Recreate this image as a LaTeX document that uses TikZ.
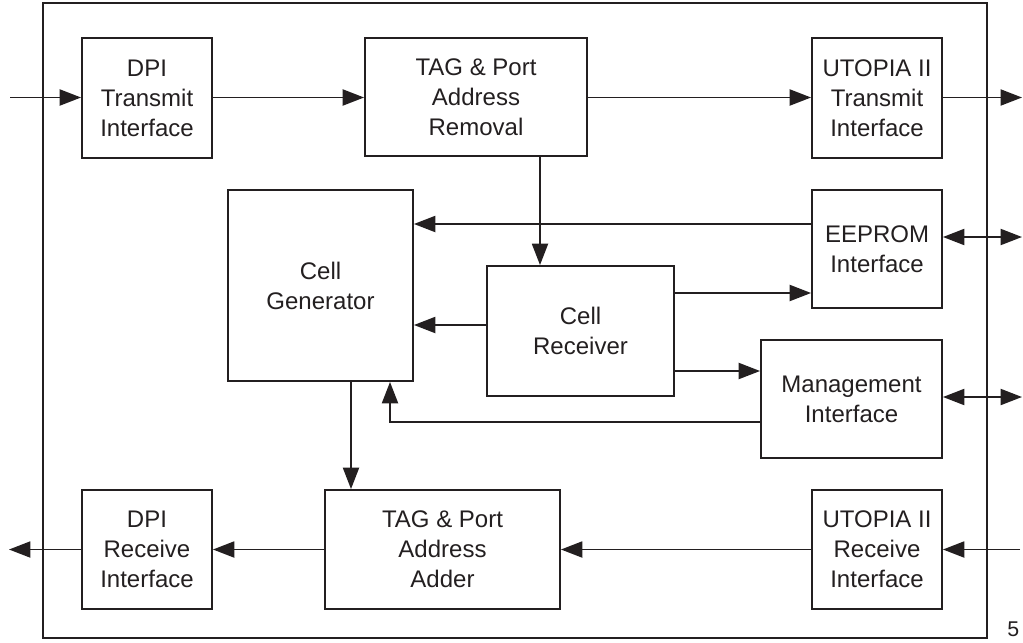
\documentclass[tikz,border=0pt]{standalone}
\usepackage{fontspec}
\setmainfont{Liberation Sans}
\usetikzlibrary{arrows.meta}
\definecolor{ink}{HTML}{231F20}
\begin{document}
\begin{tikzpicture}[x=0.75pt,y=-0.75pt,
  blk/.style 2 args={draw=ink,line width=1.4pt,align=center,text=ink,
    font=\fontsize{18pt}{22.5pt}\selectfont,inner sep=0pt,
    minimum width=#1*0.75pt,minimum height=#2*0.75pt},
  con/.style={draw=ink,line width=1.4pt},
  arr/.style={con,-{Triangle[length=16pt,width=12pt]}},
  darr/.style={con,{Triangle[length=16pt,width=12pt]}-{Triangle[length=16pt,width=12pt]}}]
\useasboundingbox (0,0) rectangle (1023,642);
\draw[ink,line width=1.1pt] (43,3) rectangle (987,638);
\node[anchor=base west,text=ink,inner sep=0pt,font=\fontsize{16pt}{18pt}\selectfont] (pg) at (1007,636) {5};
% blocks
\node[blk={130}{120}] (dpit) at (147,98) {DPI\\Transmit\\Interface};
\node[blk={222}{118}] (tagr) at (476,97) {TAG \& Port\\Address\\Removal};
\node[blk={130}{120}] (utt) at (877,98) {UTOPIA II\\Transmit\\Interface};
\node[blk={185}{191}] (cg) at (320.5,285.5) {Cell\\Generator};
\node[blk={130}{118}] (eep) at (877,249) {EEPROM\\Interface};
\node[blk={187}{130}] (cr) at (580.5,331) {Cell\\Receiver};
\node[blk={181}{118}] (mg) at (851.5,399) {Management\\Interface};
\node[blk={130}{119}] (dpir) at (147,549.5) {DPI\\Receive\\Interface};
\node[blk={235}{119}] (taga) at (442.5,549.5) {TAG \& Port\\Address\\Adder};
\node[blk={130}{119}] (utr) at (877,549.5) {UTOPIA II\\Receive\\Interface};
% free ends
\coordinate (inL) at (10,97.5);
\coordinate (outR) at (1022,97.5);
\coordinate (eepR) at (1022,237);
\coordinate (mgR) at (1022,397);
\coordinate (inR) at (1020,549.5);
\coordinate (outL) at (9,549.5);
% connectors
\draw[arr] (inL) -- (dpit.west |- inL);
\draw[arr] (dpit.east |- inL) -- (tagr.west |- inL);
\draw[arr] (tagr.east |- inL) -- (utt.west |- inL);
\draw[arr] (utt.east |- inL) -- (outR);
\draw[arr] (tagr.south -| 540,0) -- (cr.north -| 540,0);
\draw[arr] (eep.west |- 0,224) -- (cg.east |- 0,224);
\draw[arr] (cr.west |- 0,325) -- (cg.east |- 0,325);
\draw[arr] (cr.east |- 0,293) -- (eep.west |- 0,293);
\draw[arr] (cr.east |- 0,371) -- (mg.west |- 0,371);
\draw[arr] (mg.west |- 0,422) -- (390,422) -- (cg.south -| 390,0);
\draw[arr] (cg.south -| 351,0) -- (taga.north -| 351,0);
\draw[darr] (eep.east |- eepR) -- (eepR);
\draw[darr] (mg.east |- mgR) -- (mgR);
\draw[arr] (inR) -- (utr.east |- inR);
\draw[arr] (utr.west |- inR) -- (taga.east |- inR);
\draw[arr] (taga.west |- inR) -- (dpir.east |- inR);
\draw[arr] (dpir.west |- inR) -- (outL);
\end{tikzpicture}
\end{document}
